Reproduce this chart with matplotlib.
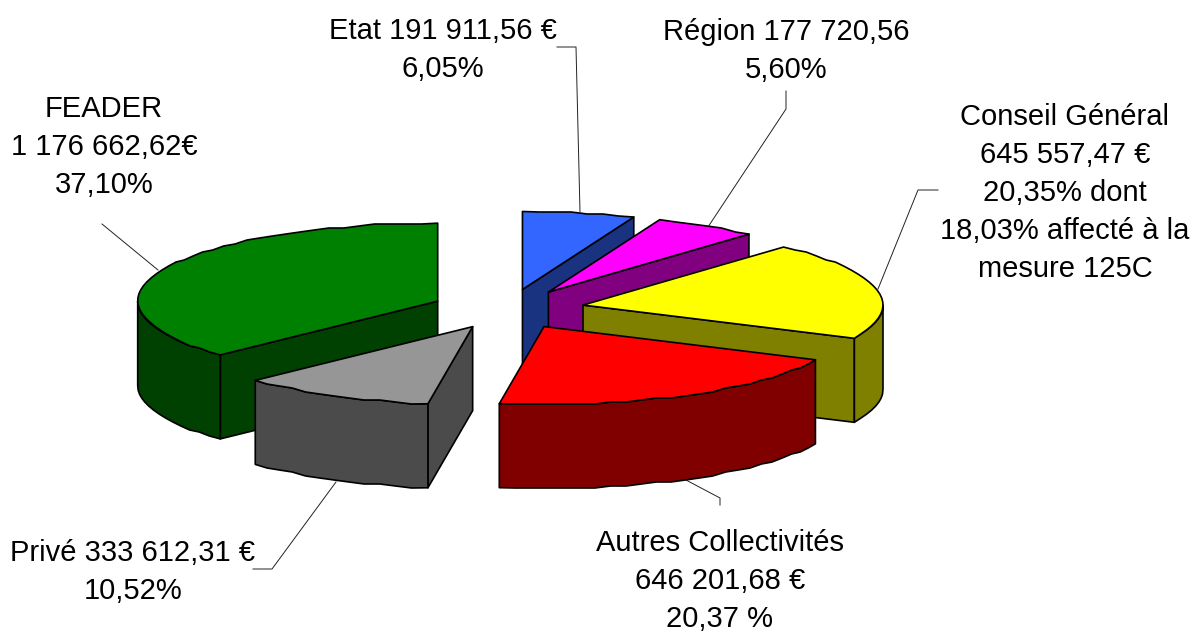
import numpy as np
import matplotlib
matplotlib.use("Agg")
import matplotlib.pyplot as plt
from matplotlib.patches import Polygon

plt.rcParams["font.family"] = ["Liberation Sans", "DejaVu Sans"]

# slices, clockwise from 12 o'clock
names = ["Etat", "Région", "Conseil Général", "Autres Collectivités", "Privé", "FEADER"]
amounts = [191911.56, 177720.56, 645557.47, 646201.68, 333612.31, 1176662.62]
top_colors = ["#3366FF", "#FF00FF", "#FFFF00", "#FF0000", "#969696", "#008000"]
side_colors = ["#1A3380", "#800080", "#808000", "#800000", "#4B4B4B", "#004000"]

labels = [
    "Etat 191 911,56 €\n6,05%",
    "Région 177 720,56\n5,60%",
    "Conseil Général\n645 557,47 €\n20,35% dont\n18,03% affecté à la\nmesure 125C",
    "Autres Collectivités\n646 201,68 €\n20,37 %",
    "Privé 333 612,31 €\n10,52%",
    "FEADER\n1 176 662,62€\n37,10%",
]
label_pos = [(443, 50), (786, 51), (1065, 193), (720, 581), (133, 572), (104, 147)]
leaders = [
    [(557, 47), (576, 47), (580, 212)],
    [(786, 91), (786, 109), (708, 227)],
    [(938, 190), (918, 190), (878, 289)],
    [(686, 480), (720, 498), (720, 505)],
    [(253, 569), (272, 569), (336, 482)],
    [(102, 224), (158, 270)],
]

CX, CY = 508, 309
RX, RY = 300, 78
DEPTH = 84
EXPLODE = 0.255
draw_order = [0, 1, 2, 5, 4, 3]


def rim(a0, a1, ox, oy, dy=0):
    # coarse, pixel-snapped arc, the original has that wobbly outline
    n = max(2, int((a1 - a0) / 3) + 1)
    a = np.radians(np.linspace(a0, a1, n))
    x = ox + RX * np.sin(a)
    y = oy - RY * np.cos(a)
    y[1:-1] = np.round(y[1:-1] / 2) * 2
    return np.column_stack([x, y + dy])


def point(a, ox, oy):
    r = np.radians(a)
    return ox + RX * np.sin(r), oy - RY * np.cos(r)


fig = plt.figure(figsize=(11.92, 6.31), dpi=100)
ax = fig.add_axes([0, 0, 1, 1])
ax.set_xlim(0, 1192)
ax.set_ylim(631, 0)
ax.axis("off")

fracs = np.array(amounts) / sum(amounts)
edges = np.concatenate([[0], np.cumsum(fracs) * 360])

for line in leaders:
    xs, ys = zip(*line)
    ax.plot(xs, ys, color="#222222", lw=0.7, zorder=1)

kw = dict(edgecolor="black", linewidth=1.2, joinstyle="round", zorder=2)
for i in draw_order:
    a0, a1 = edges[i], edges[i + 1]
    mid = np.radians((a0 + a1) / 2)
    ox = CX + EXPLODE * RX * np.sin(mid)
    oy = CY - EXPLODE * RY * np.cos(mid)

    # radial walls that face the viewer
    for a, sign in ((a0, -1), (a1, 1)):
        if np.cos(np.radians(a + sign * 90)) < -1e-6:
            px, py = point(a, ox, oy)
            wall = [(ox, oy), (px, py), (px, py + DEPTH), (ox, oy + DEPTH)]
            ax.add_patch(Polygon(wall, facecolor=side_colors[i], **kw))

    # outer wall, only the front half of the pie shows
    lo, hi = max(a0, 90), min(a1, 270)
    if lo < hi:
        upper = rim(lo, hi, ox, oy)
        lower = rim(lo, hi, ox, oy, DEPTH)
        ax.add_patch(Polygon(np.vstack([upper, lower[::-1]]), facecolor=side_colors[i], **kw))

    # top face
    top = np.vstack([[(ox, oy)], rim(a0, a1, ox, oy)])
    ax.add_patch(Polygon(top, facecolor=top_colors[i], **kw))

for text, (x, y) in zip(labels, label_pos):
    ax.text(x, y, text, ha="center", va="center", fontsize=21, color="black",
            linespacing=1.46, zorder=3)

fig.savefig("out.png", dpi=100)
